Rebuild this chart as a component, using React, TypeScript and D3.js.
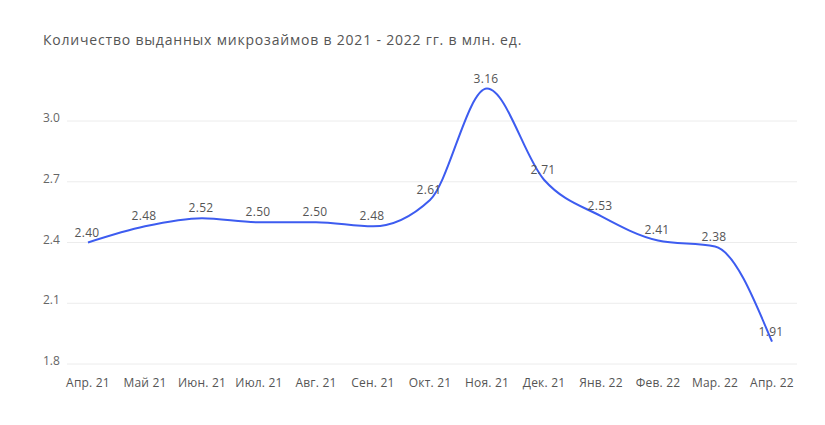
import React from "react";
import * as d3 from "d3";

const categories = ["Апр. 21","Май 21","Июн. 21","Июл. 21","Авг. 21","Сен. 21","Окт. 21","Ноя. 21","Дек. 21","Янв. 22","Фев. 22","Мар. 22","Апр. 22"];
const values = [2.40,2.48,2.52,2.50,2.50,2.48,2.61,3.16,2.71,2.53,2.41,2.38,1.91];
const yTicks = [1.8,2.1,2.4,2.7,3.0];
const title = "Количество выданных микрозаймов в 2021 - 2022 гг. в млн. ед.";

export default function App() {
  const W = 825, H = 425;
  const x = d3.scalePoint<string>().domain(categories).range([88, 772]);
  const y = d3.scaleLinear().domain([1.8, 3.0]).range([364, 121]);
  const line = d3.line<number>()
    .x((_, i) => x(categories[i]) as number)
    .y(d => y(d))
    .curve(d3.curveMonotoneX);
  const font = "'Open Sans', sans-serif";
  return (
    <svg width={W} height={H} style={{ position: "absolute", left: 0, top: 0, background: "#fff" }}>
      <text x={43} y={45} fontFamily={font} fontSize={14} letterSpacing={0.8} fill="#555">{title}</text>
      {yTicks.map(t => (
        <g key={t}>
          <line x1={67} x2={797} y1={y(t)} y2={y(t)} stroke="#ececec" strokeWidth={1} />
          <text x={43} y={y(t) + 1} fontFamily={font} fontSize={12} fill="#666">{t.toFixed(1)}</text>
        </g>
      ))}
      {categories.map(c => (
        <text key={c} x={x(c)} y={387} textAnchor="middle" fontFamily={font} fontSize={12} letterSpacing={0.2} fill="#555">{c}</text>
      ))}
      <path d={line(values) || ""} fill="none" stroke="#3d5cf0" strokeWidth={2} />
      {values.map((v, i) => (
        <text key={i} x={(x(categories[i]) as number) - 1} y={y(v) - 6} textAnchor="middle" fontFamily={font} fontSize={12} letterSpacing={0.3} fill="#555">{v.toFixed(2)}</text>
      ))}
    </svg>
  );
}
